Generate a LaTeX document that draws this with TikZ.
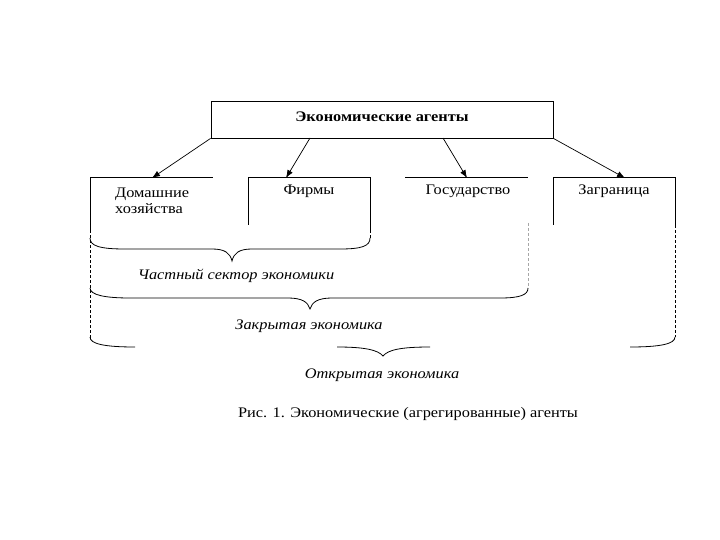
\documentclass[tikz,border=0pt]{standalone}
\usepackage{fontspec}
\setmainfont{Liberation Serif}
\usetikzlibrary{arrows.meta}
\newcommand{\sx}[1]{\scalebox{1.12}[1]{#1}}
\begin{document}
\begin{tikzpicture}[x=1pt,y=-1pt,
  ln/.style={line width=0.8pt},
  dsh/.style={line width=0.7pt,dash pattern=on 3pt off 2pt},
  arr/.style={line width=0.7pt,-{Latex[length=8pt,width=6pt]}},
  lbl/.style={inner sep=0pt,font=\fontsize{14.6}{16}\selectfont},
  ital/.style={inner sep=0pt,font=\fontsize{14.6}{16}\selectfont\itshape}]
\useasboundingbox[fill=white] (0,0) rectangle (720,540);

% top box
\node[draw,line width=0.8pt,minimum width=342pt,minimum height=37pt,inner sep=0pt] (top) at (382,119.5) {};
\node[inner sep=0pt,font=\fontsize{14.6}{16}\selectfont\bfseries,anchor=base] (toptxt) at (382,122) {\sx{Экономические агенты}};

% boxes
\draw[ln] (90,230) -- (90,177.5) -- (213,177.5);
\draw[dsh] (90,230) -- (90,338);
\draw[ln] (248,225) -- (248,177.5) -- (370,177.5) -- (370,230);
\draw[dsh] (370,230) -- (370,238);
\draw[ln] (405,177.5) -- (528,177.5);
\draw[dsh,black!35] (528,223) -- (528,288);
\draw[ln] (553,225) -- (553,177.5) -- (675,177.5) -- (675,225);
\draw[dsh] (675,225) -- (675,337);

% box texts
\node[lbl,anchor=base west] (hh1) at (115,197) {\sx{Домашние}};
\node[lbl,anchor=base west] (hh2) at (115,214) {\sx{хозяйства}};
\node[lbl,anchor=base] (firm) at (309,195) {\sx{Фирмы}};
\node[lbl,anchor=base] (gov) at (468,195) {\sx{Государство}};
\node[lbl,anchor=base] (abr) at (614,195) {\sx{Заграница}};

% arrows
\coordinate (s2) at (310,138);
\coordinate (s3) at (443,138);
\coordinate (a1) at (152,178);
\coordinate (a2) at (286,178);
\coordinate (a3) at (467,178);
\coordinate (a4) at (625,178);
\draw[arr] (top.south west) -- (a1);
\draw[arr] (s2) -- (a2);
\draw[arr] (s3) -- (a3);
\draw[arr] (top.south east) -- (a4);

% braces
\draw[ln] (90,238) .. controls (90,246) and (100,249) .. (125,249) -- (212,249)
  .. controls (225,249) and (230,253) .. (232,261)
  .. controls (234,253) and (239,249) .. (252,249) -- (340,249)
  .. controls (362,249) and (370,246) .. (370,238);
\draw[ln] (90,288) .. controls (90,295) and (105,298) .. (130,298) -- (288,298)
  .. controls (302,298) and (308,302) .. (310,309)
  .. controls (312,302) and (318,298) .. (332,298) -- (500,298)
  .. controls (520,298) and (528,295) .. (528,288);
\draw[ln] (90,337) .. controls (90,344) and (105,347) .. (135,347);
\draw[ln] (337,347) .. controls (365,347) and (378,350) .. (383,356)
  .. controls (388,350) and (400,347) .. (430,347);
\draw[ln] (630,347) .. controls (660,347) and (675,344) .. (675,337);

% labels
\node[ital,anchor=base] (priv) at (236,279) {\sx{Частный сектор экономики}};
\node[ital,anchor=base] (closed) at (309,329) {\sx{Закрытая экономика}};
\node[ital,anchor=base] (open) at (382,378) {\sx{Открытая экономика}};
\node[lbl,anchor=base] (cap) at (408,417) {\sx{Рис. 1. Экономические (агрегированные) агенты}};
\end{tikzpicture}
\end{document}
